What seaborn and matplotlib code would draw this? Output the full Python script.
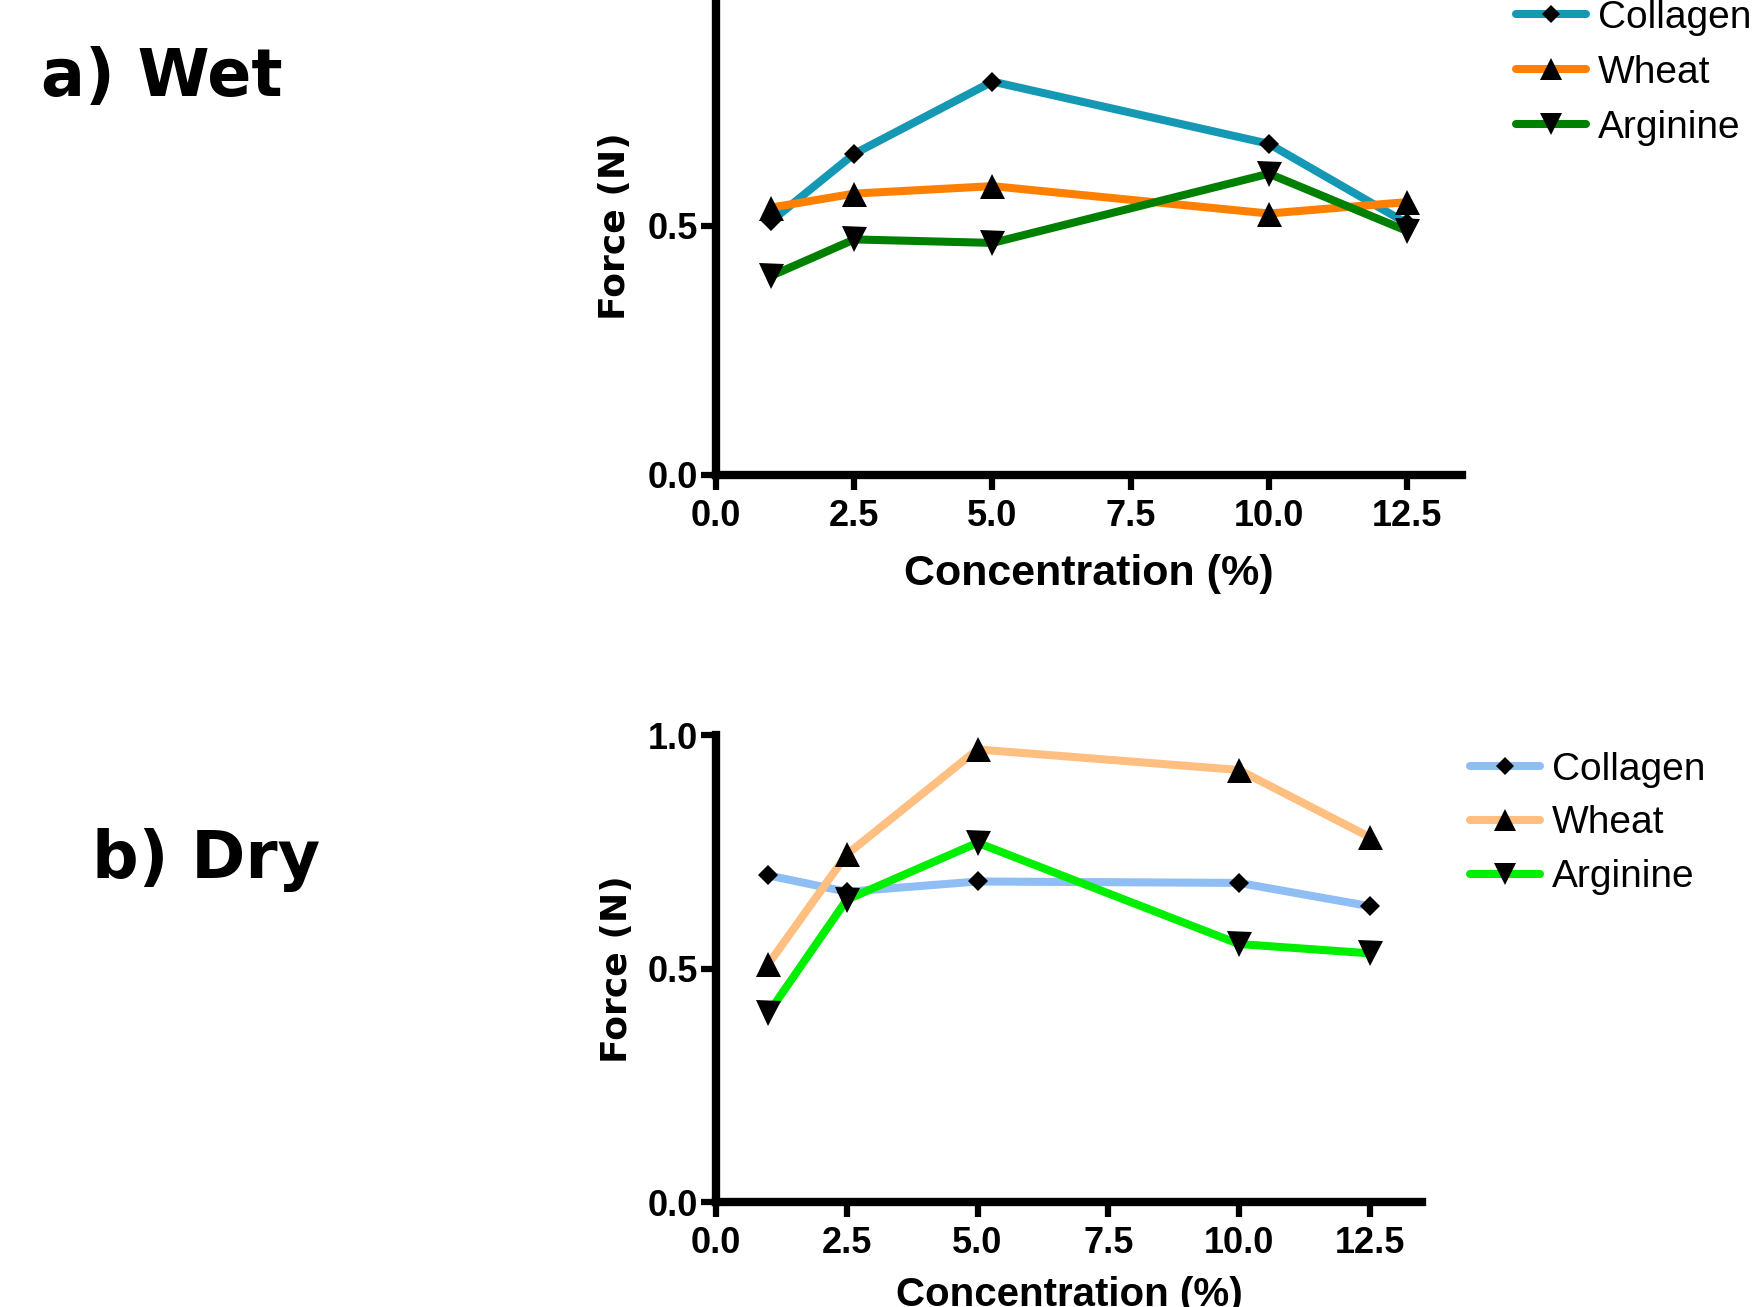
import matplotlib
matplotlib.use("Agg")
import matplotlib.pyplot as plt
import pandas as pd
import seaborn as sns

CONCENTRATION = [1.0, 2.5, 5.0, 10.0, 12.5]
MATERIALS = ["Collagen", "Wheat", "Arginine"]

WET_COLLAGEN = [0.51, 0.645, 0.79, 0.665, 0.505]
WET_WHEAT = [0.537, 0.565, 0.58, 0.525, 0.548]
WET_ARGININE = [0.40, 0.473, 0.466, 0.605, 0.49]

DRY_COLLAGEN = [0.70, 0.665, 0.687, 0.684, 0.634]
DRY_WHEAT = [0.51, 0.745, 0.97, 0.926, 0.782]
DRY_ARGININE = [0.405, 0.648, 0.77, 0.553, 0.533]

X_TICKS = [0.0, 2.5, 5.0, 7.5, 10.0, 12.5]
Y_TICKS = [0.0, 0.5, 1.0]

WET_COLORS = ["#1598B4", "#FF8000", "#008000"]
DRY_COLORS = ["#8FBEF5", "#FFBF80", "#00EE00"]
MARKERS = {"Collagen": "D", "Wheat": "^", "Arginine": "v"}
MARKER_SIZES = {"Collagen": 10, "Wheat": 18, "Arginine": 18}

TICK_FONT = {"family": "Liberation Sans", "weight": "bold", "size": 26}


def _long_frame(collagen, wheat, arginine):
    rows = []
    for name, values in zip(MATERIALS, [collagen, wheat, arginine]):
        for conc, force in zip(CONCENTRATION, values):
            rows.append({"conc": conc, "force": force, "material": name})
    return pd.DataFrame(rows)


def _draw(ax, frame, colors, ylabel_x):
    palette = dict(zip(MATERIALS, colors))
    sns.lineplot(
        data=frame,
        x="conc",
        y="force",
        hue="material",
        style="material",
        hue_order=MATERIALS,
        style_order=MATERIALS,
        palette=palette,
        markers=MARKERS,
        dashes=False,
        linewidth=5.8,
        markerfacecolor="black",
        markeredgecolor="black",
        markeredgewidth=0,
        ax=ax,
    )
    for line, name in zip(ax.lines, MATERIALS):
        line.set_markersize(MARKER_SIZES[name])

    ax.set_xlim(0, 13.5)
    ax.set_ylim(0, 1.0)
    ax.set_xticks(X_TICKS)
    ax.set_xticklabels([f"{t:.1f}" for t in X_TICKS], fontdict=TICK_FONT)
    ax.set_yticks(Y_TICKS)
    ax.set_yticklabels([f"{t:.1f}" for t in Y_TICKS], fontdict=TICK_FONT)
    ax.tick_params(axis="both", length=11, width=4.5, direction="out", colors="black")
    ax.tick_params(axis="x", pad=6)
    ax.tick_params(axis="y", pad=2)
    for side in ["top", "right"]:
        ax.spines[side].set_visible(False)
    for side in ["left", "bottom"]:
        ax.spines[side].set_linewidth(6)
        ax.spines[side].set_color("black")

    ax.set_ylabel("Force (N)", fontfamily="DejaVu Sans", fontweight="bold",
                  fontsize=26, color="black")
    ax.yaxis.set_label_coords(ylabel_x, 0.5)


def _legend(ax, fig, anchor, fontsize, spacing):
    old = ax.get_legend()
    handles = list(old.legend_handles)
    labels = [t.get_text() for t in old.get_texts()]
    old.remove()
    for h, name in zip(handles, labels):
        h.set_markersize(MARKER_SIZES[name] * 0.9)
        h.set_markerfacecolor("black")
        h.set_markeredgecolor("black")
        h.set_linewidth(5.8)
    ax.legend(
        handles, labels,
        loc="upper left",
        bbox_to_anchor=anchor,
        bbox_transform=fig.transFigure,
        frameon=False,
        borderpad=0,
        borderaxespad=0,
        handlelength=1.8,
        handletextpad=0.3,
        labelspacing=spacing,
        prop={"family": "Liberation Sans", "size": fontsize},
        labelcolor="black",
    )


def main():
    sns.set_style("ticks")
    plt.rcParams["font.family"] = ["DejaVu Sans"]
    plt.rcParams["text.color"] = "black"
    plt.rcParams["axes.labelcolor"] = "black"

    fig = plt.figure(figsize=(17.52, 13.07), dpi=100)
    ax_wet = fig.add_axes([0.4087, 0.6366, 0.426, 0.381])
    ax_dry = fig.add_axes([0.4087, 0.0803, 0.403, 0.357])

    _draw(ax_wet, _long_frame(WET_COLLAGEN, WET_WHEAT, WET_ARGININE), WET_COLORS, -0.113)
    _draw(ax_dry, _long_frame(DRY_COLLAGEN, DRY_WHEAT, DRY_ARGININE), DRY_COLORS, -0.116)

    ax_wet.set_xlabel("Concentration (%)", fontfamily="Liberation Sans",
                      fontweight="bold", fontsize=31, color="black")
    ax_wet.xaxis.set_label_coords(0.5, -0.158)
    ax_dry.set_xlabel("Concentration (%)", fontfamily="Liberation Sans",
                      fontweight="bold", fontsize=29, color="black")
    ax_dry.xaxis.set_label_coords(0.5, -0.158)

    _legend(ax_wet, fig, (0.8653, 1.000), 28, 0.49)
    _legend(ax_dry, fig, (0.839, 0.425), 28, 0.46)

    fig.text(0.0236, 0.9265, "a) Wet", fontfamily="DejaVu Sans", fontweight="bold",
             fontsize=47, ha="left", va="baseline", color="black")
    fig.text(0.0524, 0.328, "b) Dry", fontfamily="DejaVu Sans", fontweight="bold",
             fontsize=47, ha="left", va="baseline", color="black")

    fig.savefig("out.png", dpi=100)
    plt.close(fig)


if __name__ == "__main__":
    main()
